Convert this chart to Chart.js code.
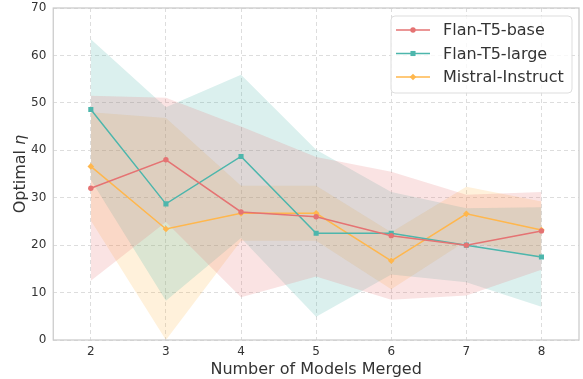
<!DOCTYPE html>
<html>
<head>
<meta charset="utf-8">
<script src="https://cdn.jsdelivr.net/npm/chart.js@4"></script>
<style>
  html, body { margin: 0; padding: 0; background: #fff; }
  #wrap { width: 583px; height: 379px; }
</style>
</head>
<body>
<div id="wrap"><canvas id="etaChart" width="583" height="379"></canvas></div>
<script>
// values
const numModels = [2, 3, 4, 5, 6, 7, 8]
const xTicks = [2, 3, 4, 5, 6, 7, 8]
const yTicks = [0, 10, 20, 30, 40, 50, 60, 70]

const baseMean = [32, 38, 27, 26, 22, 20, 23]
const baseStd = [19.5, 13.1, 18, 12.6, 13.5, 10.6, 8.2]
const largeMean = [48.6, 28.7, 38.7, 22.5, 22.5, 20, 17.5]
const largeStd = [14.8, 20.4, 17.2, 17.6, 8.7, 7.8, 10.5]
const mistralMean = [36.6, 23.4, 26.7, 26.7, 16.7, 26.6, 23.2]
const mistralStd = [11.4, 23.4, 5.8, 5.8, 6.0, 5.7, 6.0]

const seriesNames = ['Flan-T5-base', 'Flan-T5-large', 'Mistral-Instruct']
const colors = ['#E57373', '#4DB6AC', '#FFB74D']
const markers = ['circle', 'rect', 'rectRot']
const markerSizes = [2.7, 3.6, 3.3]

const FONT = "'DejaVu Sans', sans-serif"

const toPoints = (ys) => ys.map((y, i) => ({ x: numModels[i], y: y }))
const alpha = (hex, a) => {
  const n = parseInt(hex.slice(1), 16)
  return `rgba(${n >> 16}, ${(n >> 8) & 255}, ${n & 255}, ${a})`
}

const means = [baseMean, largeMean, mistralMean]
const stds = [baseStd, largeStd, mistralStd]

const lineSets = means.map((m, i) => ({
  label: seriesNames[i],
  data: toPoints(m),
  borderColor: colors[i],
  backgroundColor: colors[i],
  borderWidth: 1.5,
  pointStyle: markers[i],
  pointRadius: markerSizes[i],
  pointBorderWidth: 0,
  fill: false,
  tension: 0,
  order: 0
}))

const bandSets = []
means.forEach((m, i) => {
  bandSets.push({
    label: seriesNames[i] + ' upper',
    data: toPoints(m.map((v, k) => v + stds[i][k])),
    borderWidth: 0,
    pointRadius: 0,
    backgroundColor: alpha(colors[i], 0.2),
    fill: '+1',
    tension: 0,
    order: 1
  })
  bandSets.push({
    label: seriesNames[i] + ' lower',
    data: toPoints(m.map((v, k) => v - stds[i][k])),
    borderWidth: 0,
    pointRadius: 0,
    fill: false,
    tension: 0,
    order: 1
  })
})

// frame, y title with italic eta, and a matplotlib-like legend
const decorations = {
  id: 'decorations',
  afterDraw(chart) {
    const { ctx, chartArea: a } = chart
    ctx.save()
    ctx.strokeStyle = '#cccccc'
    ctx.lineWidth = 1.3
    ctx.strokeRect(a.left, a.top, a.right - a.left, a.bottom - a.top)

    // y title
    ctx.translate(21, (a.top + a.bottom) / 2)
    ctx.rotate(-Math.PI / 2)
    ctx.fillStyle = '#333333'
    ctx.textBaseline = 'middle'
    ctx.font = `16px ${FONT}`
    const w1 = ctx.measureText('Optimal ').width
    ctx.font = `italic 16px ${FONT}`
    const w2 = ctx.measureText('η').width
    let x0 = -(w1 + w2) / 2
    ctx.font = `16px ${FONT}`
    ctx.textAlign = 'left'
    ctx.fillText('Optimal ', x0, 0)
    ctx.font = `italic 16px ${FONT}`
    ctx.fillText('η', x0 + w1, 0)
    ctx.restore()

    // legend
    ctx.save()
    const bx = 391, by = 16, bw = 181, bh = 77
    ctx.beginPath()
    ctx.roundRect(bx, by, bw, bh, 4)
    ctx.fillStyle = 'rgba(255,255,255,0.8)'
    ctx.fill()
    ctx.strokeStyle = '#dddddd'
    ctx.lineWidth = 1
    ctx.stroke()
    ctx.font = `16px ${FONT}`
    ctx.textBaseline = 'middle'
    ctx.textAlign = 'left'
    seriesNames.forEach((name, i) => {
      const y = by + 14 + i * 23.5
      ctx.strokeStyle = colors[i]
      ctx.lineWidth = 1.5
      ctx.beginPath()
      ctx.moveTo(396, y)
      ctx.lineTo(430, y)
      ctx.stroke()
      ctx.fillStyle = colors[i]
      Chart.helpers.drawPoint(ctx, { pointStyle: markers[i], radius: markerSizes[i], rotation: 0, borderWidth: 0 }, 413, y)
      ctx.fillStyle = '#333333'
      ctx.fillText(name, 443, y + 1)
    })
    ctx.restore()
  }
}

const ctx = document.getElementById('etaChart').getContext('2d')
new Chart(ctx, {
  type: 'line',
  data: { datasets: [...lineSets, ...bandSets] },
  options: {
    responsive: false,
    animation: false,
    layout: { padding: { left: 24, right: 0, top: 8, bottom: 0 } },
    plugins: {
      legend: { display: false },
      tooltip: { enabled: false },
      filler: { propagate: false }
    },
    scales: {
      x: {
        type: 'linear',
        min: 1.5,
        max: 8.5,
        afterBuildTicks: (axis) => { axis.ticks = xTicks.map((v) => ({ value: v })) },
        afterFit: (axis) => { axis.height = 39 },
        ticks: { color: '#333333', font: { family: FONT, size: 12 }, padding: 5 },
        grid: { color: '#dddddd', drawTicks: false },
        border: { display: false, dash: [4, 3] },
        title: { display: true, text: 'Number of Models Merged', color: '#333333', font: { family: FONT, size: 16 }, padding: { top: 0, bottom: 0 } }
      },
      y: {
        min: 0,
        max: 70,
        afterBuildTicks: (axis) => { axis.ticks = yTicks.map((v) => ({ value: v })) },
        afterFit: (axis) => { axis.paddingTop = 0; axis.paddingBottom = 0 },
        ticks: { color: '#333333', font: { family: FONT, size: 12 }, padding: 7 },
        grid: { color: '#dddddd', drawTicks: false },
        border: { display: false, dash: [4, 3] }
      }
    }
  },
  plugins: [decorations]
})
</script>
</body>
</html>
